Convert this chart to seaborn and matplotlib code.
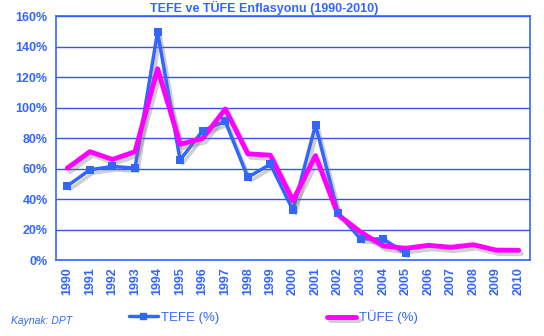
import numpy as np
import pandas as pd
import matplotlib
matplotlib.use("Agg")
import matplotlib.pyplot as plt
import matplotlib.patheffects as pe
from matplotlib.lines import Line2D
import seaborn as sns

years = [str(y) for y in range(1990, 2011)]
tefe = [48.6, 59.2, 61.4, 60.3, 149.6, 65.6, 84.9, 91.0, 54.3, 62.9, 32.7,
        88.6, 30.8, 13.9, 13.8, 4.5, np.nan, np.nan, np.nan, np.nan, np.nan]
tufe = [60.3, 71.1, 66.0, 71.1, 125.5, 76.0, 79.8, 99.1, 69.7, 68.8, 39.0,
        68.5, 29.7, 18.4, 9.3, 7.7, 9.65, 8.39, 10.06, 6.53, 6.4]
y_ticks = [0, 20, 40, 60, 80, 100, 120, 140, 160]

BLUE = "#3366FF"
GRID = "#3355EE"
MAG = "#FF00FF"

sns.set_style("white")
plt.rcParams['font.family'] = ['Liberation Sans', 'DejaVu Sans']

df = pd.DataFrame({"pos": np.arange(len(years)), "TEFE": tefe, "TUFE": tufe})

fig = plt.figure(figsize=(5.44, 3.36), dpi=100)
ax = fig.add_axes([0.103, 0.226, 0.871, 0.726])

shadow = [pe.SimpleLineShadow(offset=(2, -2.5), shadow_color="#777777", alpha=0.35), pe.Normal()]

# lines with soft shadow
sns.lineplot(data=df, x="pos", y="TEFE", ax=ax, color=BLUE, linewidth=2.5)
sns.lineplot(data=df, x="pos", y="TUFE", ax=ax, color=MAG, linewidth=3.5)
for ln in ax.lines:
    ln.set_path_effects(shadow)
# markers
sns.scatterplot(data=df, x="pos", y="TEFE", ax=ax, color=BLUE, marker="s", s=28,
                edgecolor=BLUE, linewidth=0, zorder=5)
sns.scatterplot(data=df, x="pos", y="TUFE", ax=ax, color=MAG, marker="o", s=5,
                edgecolor=MAG, linewidth=0, zorder=5)

ax.set_xlim(-0.5, len(years) - 0.5)
ax.set_ylim(0, 160)
ax.set_yticks(y_ticks)
ax.set_yticklabels([f"{v}%" for v in y_ticks])
ax.set_xticks(np.arange(len(years)))
ax.set_xticklabels(years, rotation=90)
ax.set_xticks(np.arange(len(years) + 1) - 0.5, minor=True)
ax.tick_params(axis="x", which="major", length=0, pad=5, labelsize=9, labelcolor=BLUE)
ax.tick_params(axis="x", which="minor", length=4, color=BLUE, width=1, direction="out")
ax.tick_params(axis="y", length=4, color=BLUE, width=1, direction="out", labelsize=9, labelcolor=BLUE, pad=2)
for lbl in ax.get_xticklabels() + ax.get_yticklabels():
    lbl.set_fontweight("bold")
ax.yaxis.grid(True, color=GRID, linewidth=1)
ax.xaxis.grid(False)
for s in ax.spines.values():
    s.set_color(BLUE)
    s.set_linewidth(1.2)
ax.set_xlabel("")
ax.set_ylabel("")

fig.text(0.485, 0.975, "TEFE ve TÜFE Enflasyonu (1990-2010)", ha="center", va="center",
         fontsize=9, fontweight="bold", color=BLUE)

h1 = Line2D([], [], color=BLUE, linewidth=2.5, marker="s", markersize=4)
h2 = Line2D([], [], color=MAG, linewidth=3.5, path_effects=shadow)
fig.legend(handles=[h1], labels=["TEFE (%)"], loc="center left",
           bbox_to_anchor=(0.215, 0.055), frameon=False, fontsize=9.5,
           handlelength=2.2, handletextpad=0.2, labelcolor=BLUE)
fig.legend(handles=[h2], labels=["TÜFE (%)"], loc="center left",
           bbox_to_anchor=(0.58, 0.055), frameon=False, fontsize=9.5,
           handlelength=2.2, handletextpad=0.2, labelcolor=BLUE)

fig.text(0.02, 0.045, "Kaynak: DPT", fontsize=7.5, style="italic", color=BLUE, ha="left", va="center")

fig.savefig("out.png", dpi=100)
